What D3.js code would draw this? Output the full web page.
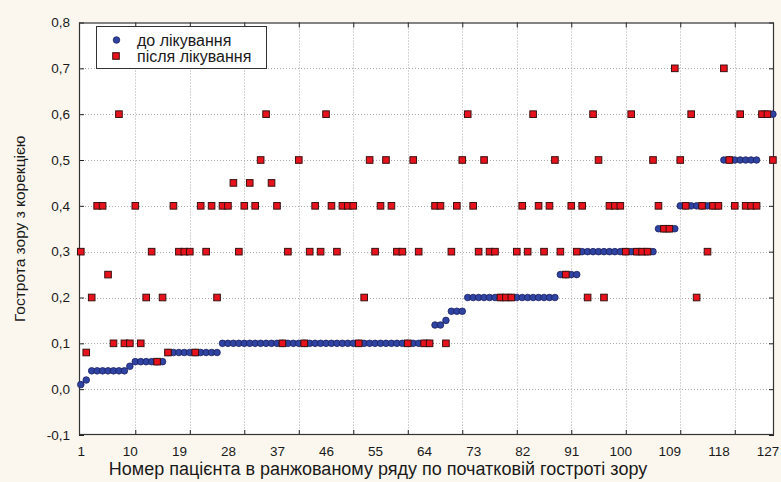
<!DOCTYPE html>
<html>
<head>
<meta charset="utf-8">
<script src="https://cdn.jsdelivr.net/npm/d3@7"></script>
<style>
  html, body { margin: 0; padding: 0; background: #fcf7ee; }
  svg { display: block; }
  text { font-family: "Liberation Sans", Arial, sans-serif; fill: #1a1a1a; }
</style>
</head>
<body>
<svg id="chart" width="781" height="482"></svg>
<script>
// Visual acuity with correction, per patient (ranked by initial acuity)
const seriesNames = ["до лікування", "після лікування"];

const before = [
  0.01, 0.02, 0.04, 0.04, 0.04, 0.04, 0.04, 0.04, 0.04, 0.05,
  0.06, 0.06, 0.06, 0.06, 0.06, 0.06, 0.08, 0.08, 0.08, 0.08,
  0.08, 0.08, 0.08, 0.08, 0.08, 0.08, 0.1, 0.1, 0.1, 0.1,
  0.1, 0.1, 0.1, 0.1, 0.1, 0.1, 0.1, 0.1, 0.1, 0.1,
  0.1, 0.1, 0.1, 0.1, 0.1, 0.1, 0.1, 0.1, 0.1, 0.1,
  0.1, 0.1, 0.1, 0.1, 0.1, 0.1, 0.1, 0.1, 0.1, 0.1,
  0.1, 0.1, 0.1, 0.1, 0.1, 0.14, 0.14, 0.15, 0.17, 0.17,
  0.17, 0.2, 0.2, 0.2, 0.2, 0.2, 0.2, 0.2, 0.2, 0.2,
  0.2, 0.2, 0.2, 0.2, 0.2, 0.2, 0.2, 0.2, 0.25, 0.25,
  0.25, 0.25, 0.3, 0.3, 0.3, 0.3, 0.3, 0.3, 0.3, 0.3,
  0.3, 0.3, 0.3, 0.3, 0.3, 0.3, 0.35, 0.35, 0.35, 0.35,
  0.4, 0.4, 0.4, 0.4, 0.4, 0.4, 0.4, 0.4, 0.5, 0.5,
  0.5, 0.5, 0.5, 0.5, 0.5, 0.6, 0.6, 0.6
];

// null = value above the plotted range, not shown
const after = [
  0.3, 0.08, 0.2, 0.4, 0.4, 0.25, 0.1, 0.6, 0.1, 0.1,
  0.4, 0.1, 0.2, 0.3, 0.06, 0.2, 0.08, 0.4, 0.3, 0.3,
  0.3, 0.08, 0.4, 0.3, 0.4, 0.2, 0.4, 0.4, 0.45, 0.3,
  0.4, 0.45, 0.4, 0.5, 0.6, 0.45, 0.4, 0.1, 0.3, null,
  0.5, 0.1, 0.3, 0.4, 0.3, 0.6, 0.4, 0.3, 0.4, 0.4,
  0.4, 0.1, 0.2, 0.5, 0.3, 0.4, 0.5, 0.4, 0.3, 0.3,
  0.1, 0.5, 0.3, 0.1, 0.1, 0.4, 0.4, 0.1, 0.3, 0.4,
  0.5, 0.6, 0.4, 0.3, 0.5, 0.3, 0.3, 0.2, 0.2, 0.2,
  0.3, 0.4, 0.3, 0.6, 0.4, 0.3, 0.4, 0.5, 0.3, 0.25,
  0.4, 0.3, 0.4, 0.2, 0.6, 0.5, 0.2, 0.4, 0.4, 0.4,
  0.3, 0.6, 0.3, 0.3, 0.3, 0.5, 0.4, 0.35, 0.35, 0.7,
  0.5, 0.4, 0.6, 0.2, 0.4, 0.3, 0.4, 0.4, 0.7, 0.5,
  0.4, 0.6, 0.4, 0.4, 0.4, 0.6, 0.6, 0.5
];

const patientIds = d3.range(1, before.length + 1);
const xTickLabels = [1, 10, 19, 28, 37, 46, 55, 64, 73, 82, 91, 100, 109, 118, 127];
const xGridValues = [11, 21, 31, 41, 51, 61, 71, 81, 91, 101, 111, 121];
const yTickValues = [-0.1, 0, 0.1, 0.2, 0.3, 0.4, 0.5, 0.6, 0.7, 0.8];
const yTitle = "Гострота зору з корекцією";
const xTitle = "Номер пацієнта в ранжованому ряду по початковій гостроті зору";

const plot = { left: 79, right: 774, top: 22.5, bottom: 435 };

const svg = d3.select("#chart");

const x = d3.scaleLinear().domain([0.67, 128.2]).range([plot.left, plot.right]);
const y = d3.scaleLinear().domain([-0.1, 0.8]).range([plot.bottom, plot.top]);

const fmt = v => (v < 0 ? "-" : "") + Math.abs(v).toFixed(1).replace(".", ",");

// plot background
svg.append("rect")
  .attr("x", plot.left).attr("y", plot.top)
  .attr("width", plot.right - plot.left).attr("height", plot.bottom - plot.top)
  .attr("fill", "#ffffff");

// dotted grid
const grid = svg.append("g").attr("stroke", "#a9a9a9").attr("stroke-width", 1)
  .attr("stroke-dasharray", "1,2");
grid.selectAll("line.h").data(yTickValues.filter(v => v > -0.1 && v < 0.8)).join("line")
  .attr("class", "h")
  .attr("x1", plot.left).attr("x2", plot.right)
  .attr("y1", d => Math.round(y(d)) + 0.5).attr("y2", d => Math.round(y(d)) + 0.5);
grid.selectAll("line.v").data(xGridValues).join("line")
  .attr("class", "v")
  .attr("y1", plot.top).attr("y2", plot.bottom)
  .attr("x1", d => Math.round(x(d)) + 0.5).attr("x2", d => Math.round(x(d)) + 0.5);

// axes with inward tick marks
const axisStyle = g => {
  g.selectAll(".domain").remove();
  g.selectAll(".tick line").attr("stroke", "#222");
  g.selectAll("text").attr("font-family", "Liberation Sans, Arial, sans-serif")
    .attr("fill", "#1a1a1a");
};

svg.append("g").attr("transform", `translate(${plot.left},0)`)
  .call(d3.axisLeft(y).tickValues(yTickValues).tickSize(-5).tickPadding(9).tickFormat(fmt))
  .call(axisStyle)
  .selectAll("text").attr("font-size", 13.5);

svg.append("g").attr("transform", `translate(${plot.right},0)`)
  .call(d3.axisRight(y).tickValues(yTickValues).tickSize(-5).tickFormat(""))
  .call(axisStyle);

svg.append("g").attr("transform", `translate(0,${plot.top})`)
  .call(d3.axisTop(x).tickValues(xGridValues).tickSize(-5).tickFormat(""))
  .call(axisStyle);

svg.append("g").attr("transform", `translate(0,${plot.bottom})`)
  .call(d3.axisBottom(x).tickValues(xGridValues).tickSize(-5).tickFormat(""))
  .call(axisStyle);

svg.append("g").attr("transform", `translate(0,${plot.bottom})`)
  .call(d3.axisBottom(x).tickValues(xTickLabels).tickSize(0).tickPadding(11).tickFormat(d3.format("d")))
  .call(axisStyle)
  .selectAll("text").attr("font-size", 13.5);

// plot frame
svg.append("rect")
  .attr("x", plot.left + 0.5).attr("y", plot.top + 0.5)
  .attr("width", plot.right - plot.left - 1).attr("height", plot.bottom - plot.top - 1)
  .attr("fill", "none").attr("stroke", "#333").attr("stroke-width", 1.2);

// markers
const marks = svg.append("g");
marks.selectAll("circle").data(patientIds).join("circle")
  .attr("cx", i => x(i)).attr("cy", i => y(before[i - 1]))
  .attr("r", 3.3)
  .attr("fill", "#2f43a3").attr("stroke", "#1b1f5e").attr("stroke-width", 0.8);

const sq = 6.6;
marks.selectAll("rect").data(patientIds.filter(i => after[i - 1] != null)).join("rect")
  .attr("x", i => x(i) - sq / 2).attr("y", i => y(after[i - 1]) - sq / 2)
  .attr("width", sq).attr("height", sq)
  .attr("fill", "#e8121c").attr("stroke", "#3a1010").attr("stroke-width", 1);

// legend
const lg = svg.append("g").attr("transform", "translate(96,26)");
lg.append("rect").attr("x", 0.5).attr("y", 0.5).attr("width", 170).attr("height", 42)
  .attr("fill", "#fff").attr("stroke", "#333").attr("stroke-width", 1);
lg.append("circle").attr("cx", 20.5).attr("cy", 14)
  .attr("r", 3.3).attr("fill", "#2f43a3").attr("stroke", "#1b1f5e").attr("stroke-width", 0.8);
lg.append("rect").attr("x", 20 - sq / 2).attr("y", 30 - sq / 2).attr("width", sq).attr("height", sq)
  .attr("fill", "#e8121c").attr("stroke", "#3a1010").attr("stroke-width", 1);
lg.append("text").attr("x", 41).attr("y", 19.5).attr("font-size", 16).text(seriesNames[0]);
lg.append("text").attr("x", 41).attr("y", 36).attr("font-size", 16).text(seriesNames[1]);

// axis titles
svg.append("text")
  .attr("transform", `translate(25,${(plot.top + plot.bottom) / 2}) rotate(-90)`)
  .attr("text-anchor", "middle").attr("font-size", 15.5).text(yTitle);
svg.append("text")
  .attr("x", 378).attr("y", 475)
  .attr("text-anchor", "middle").attr("font-size", 18).text(xTitle);
</script>
</body>
</html>
